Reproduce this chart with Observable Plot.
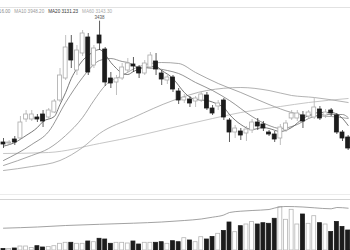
<!DOCTYPE html>
<html><head><meta charset="utf-8">
<script src="https://cdn.jsdelivr.net/npm/d3@7"></script>
<script src="https://cdn.jsdelivr.net/npm/@observablehq/plot@0.6"></script>
<style>
html,body{margin:0;padding:0;background:#fff;}
#wrap{position:relative;width:350px;height:250px;overflow:hidden;background:#fff;font-family:"Liberation Sans",Arial,sans-serif;}
#main{position:absolute;left:0;top:0;}
#vol{position:absolute;left:0;top:199px;}
.hl{position:absolute;left:0;width:350px;height:0;}
#legend{position:absolute;left:-17px;top:8.5px;display:flex;gap:4px;font-size:4.6px;line-height:5px;white-space:nowrap;}
</style></head>
<body><div id="wrap">
<div id="main"></div><div id="vol"></div>
<div class="hl" style="top:7px;border-top:1px solid #e2e2e2"></div>
<div class="hl" style="top:194px;border-top:1px solid #ececec"></div>
<div class="hl" style="top:199px;border-top:1px solid #d4d4d4"></div>
<div id="legend"></div>
</div>
<script>
const open  = [3074,3071,3083,3086,3143,3143,3149,3158,3149,3164,3200,3266,3371,3290,3341,3389,3305,3395,3353,3266,3254,3266,3290,3308,3299,3281,3299,3317,3281,3260,3269,3227,3200,3203,3197,3200,3215,3176,3182,3200,3140,3104,3107,3101,3110,3134,3128,3104,3098,3086,3110,3146,3146,3155,3152,3149,3173,3155,3170,3155,3104,3089];
const close = [3068,3074,3074,3134,3158,3158,3143,3137,3170,3197,3275,3359,3320,3350,3401,3284,3356,3371,3254,3251,3266,3299,3311,3302,3281,3311,3335,3293,3263,3269,3233,3200,3209,3191,3206,3218,3176,3161,3191,3149,3104,3116,3095,3113,3134,3122,3116,3098,3083,3119,3131,3161,3161,3137,3164,3179,3146,3164,3161,3104,3086,3056];
const high  = [3086,3080,3092,3152,3170,3170,3158,3170,3176,3203,3296,3395,3395,3365,3410,3401,3365,3438,3359,3284,3275,3311,3326,3329,3305,3320,3344,3341,3290,3278,3275,3236,3218,3212,3212,3224,3224,3185,3200,3206,3146,3125,3116,3122,3143,3146,3137,3110,3107,3128,3140,3170,3170,3167,3170,3206,3182,3173,3176,3161,3110,3095];
const low   = [3056,3065,3065,3080,3134,3137,3134,3119,3143,3161,3194,3260,3296,3275,3332,3275,3296,3350,3242,3236,3215,3260,3284,3284,3266,3275,3293,3275,3245,3248,3224,3188,3191,3179,3179,3194,3170,3155,3170,3140,3074,3086,3080,3077,3101,3110,3107,3092,3074,3065,3104,3140,3137,3116,3146,3143,3140,3146,3152,3098,3077,3050];
const volume = [15000,15000,20000,40000,40000,25000,43000,30000,35000,43000,67000,77000,77000,67000,67000,90000,83000,117000,110000,67000,77000,77000,70000,90000,60000,77000,77000,77000,83000,67000,93000,83000,123000,100000,83000,133000,110000,135000,167000,195000,280000,183000,243000,260000,285000,260000,273000,267000,317000,433000,307000,407000,260000,360000,267000,343000,273000,260000,185000,285000,235000,200000];

const ma5Idx  = [0,2,4,6,7,9,10,11,12,13,14,15,16,17,18,19,20,21,22,23,25,27,28,30,31,32,34,36,38,39,40,42,44,46,47,49,51,53,54,56,58,60,61];
const ma5Val  = [3063,3074,3095,3119,3137,3152,3188,3224,3266,3296,3320,3335,3347,3353,3338,3314,3296,3281,3278,3287,3299,3302,3290,3266,3245,3224,3203,3200,3188,3179,3158,3128,3113,3119,3116,3107,3119,3146,3155,3164,3164,3146,3125];
const ma10Idx = [0,5,8,11,14,16,17,19,21,22,24,27,29,31,34,37,40,44,47,49,52,54,57,60,61];
const ma10Val = [3020,3068,3107,3194,3269,3308,3320,3326,3317,3314,3299,3296,3290,3281,3254,3230,3200,3152,3125,3116,3128,3146,3158,3158,3149];
const ma20Idx = [0,5,8,11,14,16,18,21,24,28,31,34,38,42,47,51,54,58,61];
const ma20Val = [3005,3035,3056,3095,3149,3200,3245,3275,3302,3314,3311,3284,3251,3224,3188,3164,3155,3152,3146];
const ma60Idx = [0,5,10,14,17,23,30,36,42,47,51,55,61];
const ma60Val = [2990,3002,3020,3059,3101,3149,3200,3230,3239,3230,3215,3209,3194];
const ma120Idx = [0,8,17,24,30,37,42,49,54,61];
const ma120Val = [3041,3044,3071,3095,3119,3146,3164,3182,3194,3206];
const vmaIdx = [0,6,11,17,23,28,32,35,37,39,40,42,44,47,48,50,53,55,58,59,61];
const vmaVal = [223000,235000,250000,262000,273000,285000,300000,315000,333000,355000,380000,393000,400000,410000,425000,440000,435000,427000,417000,430000,423000];

const legendLabels = ["MA5 3916.00","MA10 3948.20","MA20 3131.23","MA60 3143.30"];
const legendColors = ["#8a8a8a","#9a9a9a","#333333","#aaaaaa"];

const candles = open.map((o,i)=>({i, o, c: close[i], h: high[i], l: low[i], v: volume[i], up: close[i] >= o}));
const lineData = (idx, val) => idx.map((i,k)=>({i, v: val[k]}));
const maLines = [
  {d: lineData(ma120Idx, ma120Val), color:"#b8b8b8"},
  {d: lineData(ma60Idx, ma60Val), color:"#a0a0a0"},
  {d: lineData(ma20Idx, ma20Val), color:"#909090"},
  {d: lineData(ma10Idx, ma10Val), color:"#7a7a7a"},
  {d: lineData(ma5Idx, ma5Val), color:"#555555"}
];
const xDomain = [-0.531, 61.416];
const hw = 0.35;
const peak = d3.maxIndex(high);

const main = Plot.plot({
  width: 350, height: 194, margin: 0,
  x: {domain: xDomain, axis: null},
  y: {domain: [2918, 3500], axis: null},
  marks: [
    ...maLines.map(m => Plot.line(m.d, {x:"i", y:"v", stroke: m.color, strokeWidth: 0.8, curve: "monotone-x"})),
    Plot.ruleX(candles, {x:"i", y1:"l", y2:"h", stroke: d => d.up ? "#b0b0b0" : "#333", strokeWidth: 0.8}),
    Plot.rect(candles, {x1: d=>d.i-hw, x2: d=>d.i+hw, y1: d=>Math.min(d.o,d.c), y2: d=>Math.max(d.o,d.c)+ (Math.abs(d.o-d.c)<2?2:0),
      fill: d => d.up ? "#fff" : "#1c1c1c", stroke: d => d.up ? "#aaa" : "#1c1c1c", strokeWidth: 0.8}),
    Plot.text([peak], {x: d=>d, y: d=>high[d], text: d=>String(high[d]), dy: -4, fontSize: 4.5, fill: "#555", fontFamily: "Liberation Sans"})
  ]
});
document.getElementById("main").appendChild(main);

const vol = Plot.plot({
  width: 350, height: 51, margin: 0,
  x: {domain: xDomain, axis: null},
  y: {domain: [0, 510000], axis: null},
  marks: [
    Plot.rect(candles, {x1: d=>d.i-hw, x2: d=>d.i+hw, y1: 0, y2: "v",
      fill: d => d.up ? "#fff" : "#1c1c1c", stroke: d => d.up ? "#b5b5b5" : "#1c1c1c", strokeWidth: 0.8}),
    Plot.line(lineData(vmaIdx, vmaVal), {x:"i", y:"v", stroke:"#8a8a8a", strokeWidth: 0.8, curve:"monotone-x"})
  ]
});
document.getElementById("vol").appendChild(vol);

const lg = document.getElementById("legend");
legendLabels.forEach((t,k)=>{ const s=document.createElement("span"); s.textContent=t; s.style.color=legendColors[k]; lg.appendChild(s); });
</script>
</body></html>
